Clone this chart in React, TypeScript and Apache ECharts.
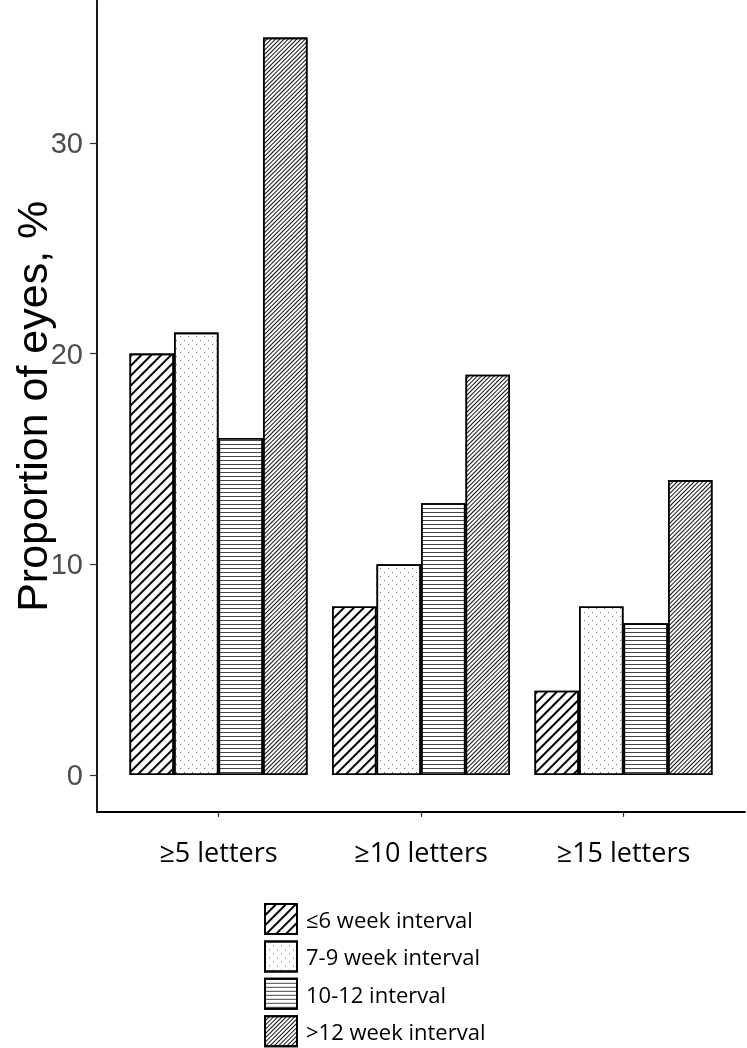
import React, { useEffect, useRef } from "react";
import * as echarts from "echarts";

const categories = ["≥5 letters", "≥10 letters", "≥15 letters"];
const categoryPositions = [1, 2, 3];
const seriesNames = ["≤6 week interval", "7-9 week interval", "10-12 interval", ">12 week interval"];
const le6Week = [20, 8, 4];
const w7to9Week = [21, 10, 8];
const w10to12 = [16, 12.9, 7.2];
const gt12Week = [35, 19, 14];
const yTicks = [0, 10, 20, 30];

const decals = [
  { symbol: "rect", symbolSize: 1, color: "#000", dashArrayX: [1, 0], dashArrayY: [2, 5], rotation: -Math.PI / 4 },
  { symbol: "rect", symbolSize: 1, color: "#777", dashArrayX: [[1, 7], [0, 4, 1, 3]], dashArrayY: [1, 3], rotation: 0 },
  { symbol: "rect", symbolSize: 1, color: "#444", dashArrayX: [1, 0], dashArrayY: [1, 3], rotation: 0 },
  { symbol: "rect", symbolSize: 1, color: "#111", dashArrayX: [1, 0], dashArrayY: [1, 2], rotation: -Math.PI / 4 },
];

export default function App() {
  const ref = useRef<HTMLDivElement>(null);
  useEffect(() => {
    if (!ref.current) return;
    const chart = echarts.init(ref.current, null, { renderer: "svg" });
    const values = [le6Week, w7to9Week, w10to12, gt12Week];
    const series = values.map((vals, si) => ({
      type: "bar",
      name: seriesNames[si],
      data: vals.map((v, i) => [categoryPositions[i], v]),
      barWidth: 44.5,
      barGap: "0%",
      itemStyle: { color: "#fff", borderColor: "#000", borderWidth: 1.6, decal: decals[si] },
      emphasis: { disabled: true },
    }));
    chart.setOption({
      animation: false,
      grid: { left: 97, right: 2, top: 0.7, height: 811.2, containLabel: false, outerBoundsMode: "none" },
      legend: {
        orient: "vertical",
        left: 264,
        top: 903,
        height: 220,
        padding: 0,
        itemWidth: 32,
        itemHeight: 30,
        itemGap: 5.4,
        icon: "rect",
        selectedMode: false,
        data: seriesNames,
        itemStyle: { borderColor: "#000", borderWidth: 2 },
        textStyle: { fontSize: 22, lineHeight: 22, fontFamily: "Open Sans", color: "#000", padding: [0, 0, 0, 4] },
      },
      xAxis: {
        type: "value",
        min: 0.4,
        max: 3.6,
        splitLine: { show: false },
        axisLine: { show: true, onZero: false, lineStyle: { color: "#000", width: 1.8 } },
        axisTick: { show: true, customValues: categoryPositions, length: 5, lineStyle: { color: "#333", width: 1.2 } },
        axisLabel: {
          customValues: categoryPositions,
          formatter: (v: number) => (Math.abs(v - Math.round(v)) < 1e-6 ? categories[Math.round(v) - 1] ?? "" : ""),
          fontSize: 27,
          fontFamily: "Open Sans",
          color: "#000",
          margin: 26,
        },
      },
      yAxis: {
        type: "value",
        min: -1.75,
        max: 36.75,
        name: "Proportion of eyes, %",
        nameLocation: "middle",
        nameRotate: 90,
        nameGap: 44,
        nameMoveOverlap: false,
        nameTextStyle: { fontSize: 43, fontFamily: "Liberation Sans", color: "#000" },
        splitLine: { show: false },
        axisLine: { show: true, onZero: false, lineStyle: { color: "#000", width: 1.8 } },
        axisTick: { show: true, customValues: yTicks, length: 7, lineStyle: { color: "#333", width: 1.2 } },
        axisLabel: {
          customValues: yTicks,
          fontSize: 29,
          fontFamily: "Liberation Sans",
          color: "#4d4d4d",
          margin: 14,
        },
      },
      series,
    });
    return () => chart.dispose();
  }, []);
  return <div ref={ref} style={{ position: "fixed", left: 0, top: 0, width: 747, height: 1048 }} />;
}
